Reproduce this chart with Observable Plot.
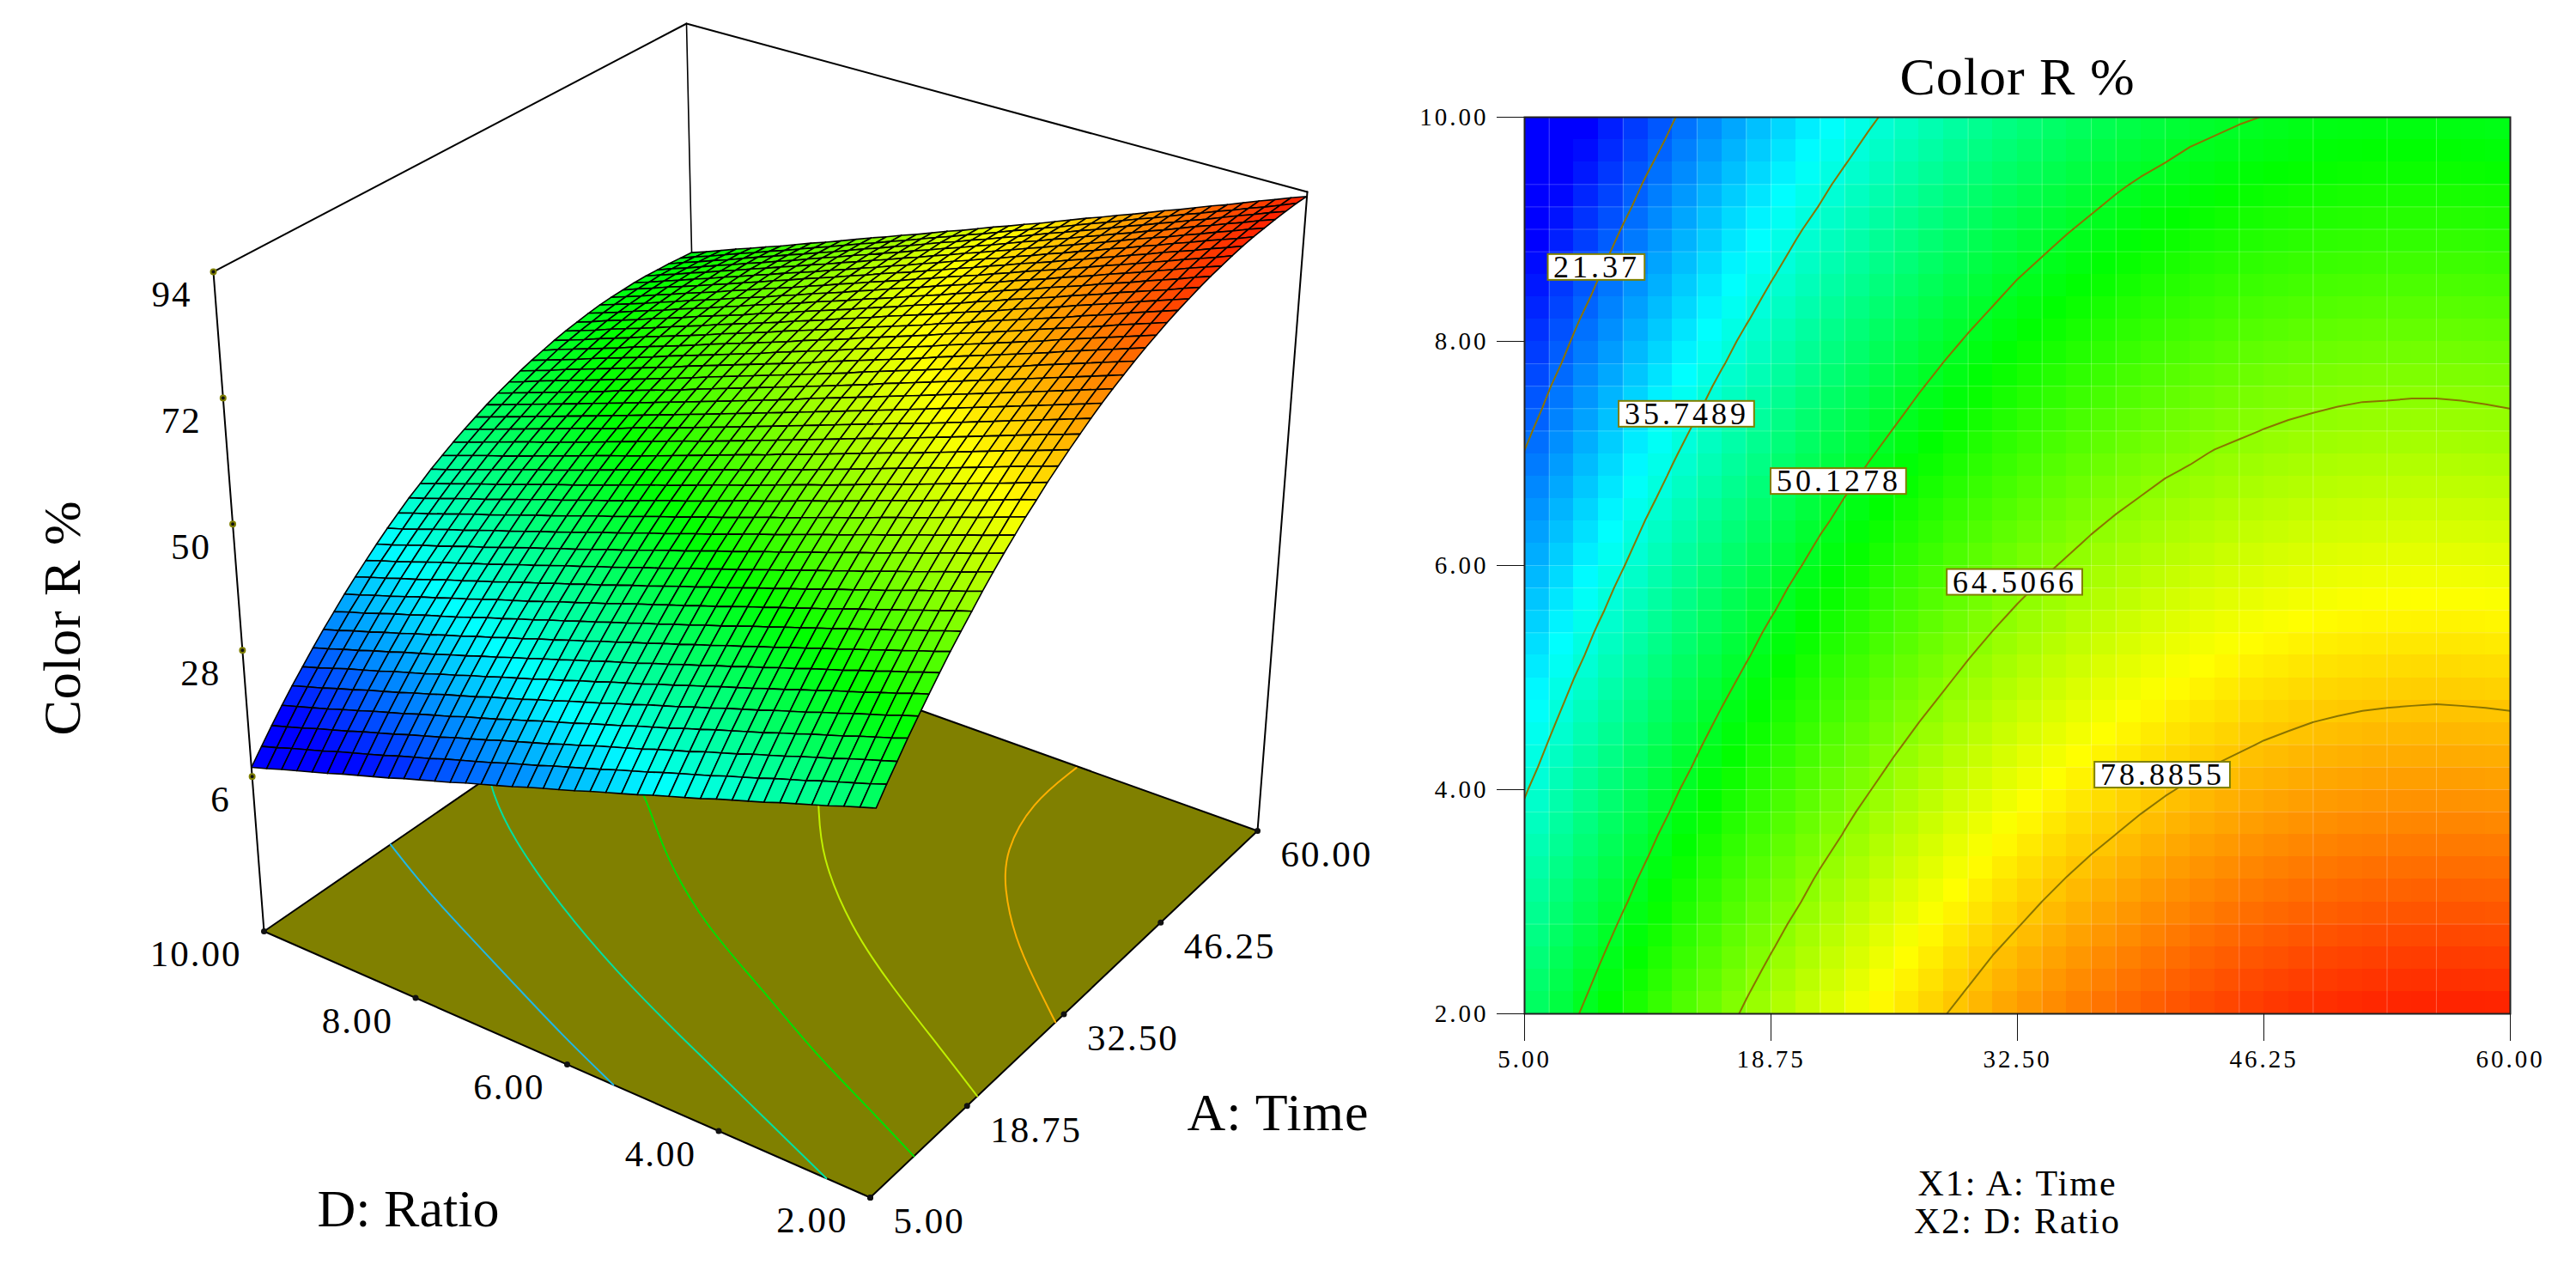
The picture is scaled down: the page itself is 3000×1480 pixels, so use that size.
<!DOCTYPE html>
<html>
<head>
<meta charset="utf-8">
<script src="https://cdn.jsdelivr.net/npm/d3@7"></script>
<script src="https://cdn.jsdelivr.net/npm/@observablehq/plot@0.6"></script>
<style>
html,body{margin:0;padding:0;background:#fff}
#page{display:flex;width:3000px;height:1480px;overflow:hidden}
#page svg{display:block;flex:none}
</style>
</head>
<body>
<div id="page"></div>
<script>
// ---------- data ----------
const timeValues = [5,6.375,7.75,9.125,10.5,11.875,13.25,14.625,16,17.375,18.75,20.125,21.5,22.875,24.25,25.625,27,28.375,29.75,31.125,32.5,33.875,35.25,36.625,38,39.375,40.75,42.125,43.5,44.875,46.25,47.625,49,50.375,51.75,53.125,54.5,55.875,57.25,58.625,60];
const ratioValues = [2,2.2,2.4,2.6,2.8,3,3.2,3.4,3.6,3.8,4,4.2,4.4,4.6,4.8,5,5.2,5.4,5.6,5.8,6,6.2,6.4,6.6,6.8,7,7.2,7.4,7.6,7.8,8,8.2,8.4,8.6,8.8,9,9.2,9.4,9.6,9.8,10];
// one row of Color R % per ratio value, one entry per time value
const colorR = [
[44.6,47.2,49.6,52.1,54.4,56.7,58.9,61.1,63.1,65.1,67.1,69.0,70.8,72.5,74.2,75.7,77.3,78.7,80.1,81.4,82.7,83.9,85.0,86.0,87.0,87.9,88.7,89.5,90.2,90.8,91.4,91.9,92.3,92.7,93.0,93.2,93.3,93.4,93.4,93.4,93.2],
[43.7,46.2,48.7,51.1,53.5,55.8,58.0,60.1,62.2,64.2,66.1,68.0,69.8,71.5,73.2,74.8,76.3,77.7,79.1,80.4,81.7,82.9,84.0,85.0,86.0,86.9,87.7,88.5,89.2,89.8,90.4,90.9,91.3,91.6,91.9,92.1,92.3,92.4,92.4,92.3,92.2],
[42.8,45.3,47.8,50.2,52.5,54.8,57.0,59.2,61.2,63.2,65.2,67.0,68.8,70.5,72.2,73.8,75.3,76.8,78.1,79.5,80.7,81.9,83.0,84.0,85.0,85.9,86.7,87.5,88.2,88.8,89.3,89.8,90.3,90.6,90.9,91.1,91.2,91.3,91.3,91.2,91.1],
[41.8,44.4,46.9,49.3,51.6,53.9,56.1,58.2,60.3,62.3,64.2,66.1,67.9,69.6,71.2,72.8,74.3,75.8,77.2,78.5,79.7,80.9,82.0,83.0,84.0,84.9,85.7,86.5,87.2,87.8,88.3,88.8,89.2,89.6,89.8,90.1,90.2,90.3,90.3,90.2,90.1],
[40.9,43.5,45.9,48.3,50.7,52.9,55.1,57.3,59.3,61.3,63.3,65.1,66.9,68.6,70.3,71.8,73.4,74.8,76.2,77.5,78.7,79.9,81.0,82.0,83.0,83.9,84.7,85.4,86.1,86.7,87.3,87.8,88.2,88.5,88.8,89.0,89.1,89.2,89.2,89.1,89.0],
[40.0,42.5,45.0,47.4,49.7,52.0,54.2,56.3,58.4,60.4,62.3,64.1,65.9,67.6,69.3,70.9,72.4,73.8,75.2,76.5,77.7,78.9,80.0,81.0,82.0,82.9,83.7,84.4,85.1,85.7,86.3,86.7,87.1,87.5,87.8,88.0,88.1,88.2,88.1,88.1,87.9],
[39.1,41.6,44.1,46.5,48.8,51.1,53.2,55.4,57.4,59.4,61.3,63.2,65.0,66.7,68.3,69.9,71.4,72.8,74.2,75.5,76.7,77.9,79.0,80.0,81.0,81.8,82.7,83.4,84.1,84.7,85.2,85.7,86.1,86.4,86.7,86.9,87.0,87.1,87.1,87.0,86.9],
[38.1,40.7,43.1,45.5,47.8,50.1,52.3,54.4,56.5,58.5,60.4,62.2,64.0,65.7,67.3,68.9,70.4,71.8,73.2,74.5,75.7,76.9,78.0,79.0,79.9,80.8,81.6,82.4,83.0,83.7,84.2,84.7,85.1,85.4,85.7,85.9,86.0,86.0,86.0,86.0,85.8],
[37.2,39.7,42.2,44.6,46.9,49.2,51.4,53.5,55.5,57.5,59.4,61.2,63.0,64.7,66.4,67.9,69.4,70.9,72.2,73.5,74.7,75.9,77.0,78.0,78.9,79.8,80.6,81.4,82.0,82.6,83.2,83.6,84.0,84.4,84.6,84.8,85.0,85.0,85.0,84.9,84.7],
[36.3,38.8,41.3,43.6,46.0,48.2,50.4,52.5,54.6,56.5,58.5,60.3,62.1,63.8,65.4,67.0,68.4,69.9,71.2,72.5,73.7,74.9,76.0,77.0,77.9,78.8,79.6,80.3,81.0,81.6,82.1,82.6,83.0,83.3,83.6,83.8,83.9,83.9,83.9,83.8,83.7],
[35.4,37.9,40.3,42.7,45.0,47.3,49.5,51.6,53.6,55.6,57.5,59.3,61.1,62.8,64.4,66.0,67.5,68.9,70.2,71.5,72.7,73.9,75.0,76.0,76.9,77.8,78.6,79.3,80.0,80.6,81.1,81.6,82.0,82.3,82.5,82.7,82.8,82.9,82.9,82.8,82.6],
[34.4,36.9,39.4,41.8,44.1,46.3,48.5,50.6,52.7,54.6,56.5,58.4,60.1,61.8,63.4,65.0,66.5,67.9,69.3,70.5,71.7,72.9,74.0,75.0,75.9,76.8,77.6,78.3,79.0,79.6,80.1,80.5,80.9,81.2,81.5,81.7,81.8,81.8,81.8,81.7,81.5],
[33.5,36.0,38.5,40.9,43.2,45.4,47.6,49.7,51.7,53.7,55.6,57.4,59.2,60.9,62.5,64.0,65.5,66.9,68.3,69.5,70.8,71.9,73.0,74.0,74.9,75.8,76.6,77.3,78.0,78.5,79.1,79.5,79.9,80.2,80.4,80.6,80.7,80.8,80.7,80.6,80.5],
[32.6,35.1,37.5,39.9,42.2,44.5,46.6,48.7,50.8,52.7,54.6,56.4,58.2,59.9,61.5,63.0,64.5,65.9,67.3,68.6,69.8,70.9,72.0,73.0,73.9,74.8,75.6,76.3,76.9,77.5,78.0,78.5,78.9,79.2,79.4,79.6,79.7,79.7,79.7,79.6,79.4],
[31.7,34.2,36.6,39.0,41.3,43.5,45.7,47.8,49.8,51.8,53.7,55.5,57.2,58.9,60.5,62.1,63.5,64.9,66.3,67.6,68.8,69.9,71.0,72.0,72.9,73.7,74.5,75.3,75.9,76.5,77.0,77.4,77.8,78.1,78.4,78.5,78.6,78.7,78.6,78.5,78.4],
[30.7,33.2,35.7,38.0,40.3,42.6,44.7,46.8,48.8,50.8,52.7,54.5,56.3,57.9,59.5,61.1,62.6,63.9,65.3,66.6,67.8,68.9,70.0,71.0,71.9,72.7,73.5,74.2,74.9,75.5,75.9,76.4,76.8,77.1,77.3,77.5,77.6,77.6,77.6,77.4,77.3],
[29.8,32.3,34.7,37.1,39.4,41.6,43.8,45.9,47.9,49.8,51.7,53.5,55.3,57.0,58.6,60.1,61.6,62.9,64.3,65.6,66.8,67.9,69.0,69.9,70.9,71.7,72.5,73.2,73.8,74.4,74.9,75.4,75.7,76.0,76.3,76.4,76.5,76.6,76.5,76.4,76.2],
[28.9,31.4,33.8,36.2,38.5,40.7,42.8,44.9,46.9,48.9,50.8,52.6,54.3,56.0,57.6,59.1,60.6,62.0,63.3,64.6,65.8,66.9,68.0,68.9,69.9,70.7,71.5,72.2,72.8,73.4,73.9,74.3,74.7,75.0,75.2,75.4,75.5,75.5,75.4,75.3,75.1],
[28.0,30.4,32.9,35.2,37.5,39.7,41.9,44.0,46.0,47.9,49.8,51.6,53.4,55.0,56.6,58.2,59.6,61.0,62.4,63.6,64.8,65.9,67.0,67.9,68.8,69.7,70.5,71.2,71.8,72.4,72.9,73.3,73.7,74.0,74.2,74.3,74.4,74.4,74.4,74.3,74.1],
[27.0,29.5,32.0,34.3,36.6,38.8,40.9,43.0,45.0,47.0,48.9,50.7,52.4,54.0,55.6,57.2,58.6,60.0,61.3,62.6,63.8,64.9,66.0,66.9,67.8,68.7,69.5,70.2,70.8,71.4,71.8,72.3,72.6,72.9,73.1,73.3,73.4,73.4,73.3,73.2,73.0],
[26.1,28.6,31.0,33.4,35.6,37.9,40.0,42.1,44.1,46.0,47.9,49.7,51.4,53.1,54.7,56.2,57.7,59.0,60.4,61.6,62.8,63.9,64.9,65.9,66.8,67.7,68.4,69.1,69.8,70.3,70.8,71.2,71.6,71.9,72.1,72.2,72.3,72.3,72.3,72.1,72.0],
[25.2,27.7,30.1,32.4,34.7,36.9,39.1,41.1,43.1,45.1,46.9,48.7,50.5,52.1,53.7,55.2,56.7,58.1,59.4,60.6,61.8,62.9,63.9,64.9,65.8,66.6,67.4,68.1,68.7,69.3,69.8,70.2,70.6,70.8,71.0,71.2,71.3,71.3,71.2,71.1,70.9],
[24.3,26.7,29.1,31.5,33.8,36.0,38.1,40.2,42.2,44.1,46.0,47.8,49.5,51.1,52.7,54.2,55.7,57.1,58.4,59.6,60.8,61.9,62.9,63.9,64.8,65.6,66.4,67.1,67.7,68.3,68.7,69.2,69.5,69.8,70.0,70.1,70.2,70.2,70.2,70.0,69.8],
[23.3,25.8,28.2,30.6,32.8,35.0,37.2,39.2,41.2,43.1,45.0,46.8,48.5,50.2,51.8,53.3,54.7,56.1,57.4,58.6,59.8,60.9,61.9,62.9,63.8,64.6,65.4,66.1,66.7,67.2,67.7,68.1,68.5,68.8,69.0,69.1,69.2,69.2,69.1,69.0,68.8],
[22.4,24.9,27.3,29.6,31.9,34.1,36.2,38.3,40.3,42.2,44.0,45.8,47.5,49.2,50.8,52.3,53.7,55.1,56.4,57.6,58.8,59.9,60.9,61.9,62.8,63.6,64.4,65.0,65.7,66.2,66.7,67.1,67.4,67.7,67.9,68.0,68.1,68.1,68.0,67.9,67.7],
[21.5,23.9,26.4,28.7,30.9,33.1,35.3,37.3,39.3,41.2,43.1,44.9,46.6,48.2,49.8,51.3,52.8,54.1,55.4,56.7,57.8,58.9,59.9,60.9,61.8,62.6,63.3,64.0,64.7,65.2,65.7,66.1,66.4,66.7,66.9,67.0,67.1,67.1,67.0,66.8,66.6],
[20.6,23.0,25.4,27.7,30.0,32.2,34.3,36.4,38.4,40.3,42.1,43.9,45.6,47.3,48.8,50.3,51.8,53.2,54.4,55.7,56.8,57.9,58.9,59.9,60.8,61.6,62.3,63.0,63.6,64.1,64.6,65.0,65.4,65.6,65.8,65.9,66.0,66.0,65.9,65.8,65.6],
[19.6,22.1,24.5,26.8,29.1,31.3,33.4,35.4,37.4,39.3,41.2,43.0,44.6,46.3,47.9,49.3,50.8,52.2,53.4,54.7,55.8,56.9,57.9,58.9,59.8,60.6,61.3,62.0,62.6,63.1,63.6,64.0,64.3,64.6,64.8,64.9,65.0,65.0,64.9,64.7,64.5],
[18.7,21.2,23.6,25.9,28.1,30.3,32.4,34.5,36.5,38.3,40.2,42.0,43.7,45.3,46.9,48.4,49.8,51.2,52.4,53.7,54.9,55.9,56.9,57.8,58.7,59.6,60.3,61.0,61.6,62.1,62.6,63.0,63.3,63.5,63.8,63.8,63.9,63.9,63.8,63.7,63.5],
[17.8,20.2,22.6,24.9,27.2,29.4,31.5,33.5,35.5,37.4,39.3,41.0,42.7,44.3,45.9,47.4,48.8,50.2,51.5,52.7,53.9,54.9,55.9,56.8,57.7,58.6,59.3,60.0,60.6,61.1,61.5,62.0,62.2,62.5,62.7,62.8,62.9,62.9,62.7,62.6,62.4],
[16.9,19.3,21.7,24.0,26.3,28.4,30.5,32.6,34.6,36.5,38.3,40.1,41.8,43.4,44.9,46.4,47.8,49.2,50.5,51.7,52.8,53.9,54.9,55.9,56.7,57.5,58.3,58.9,59.5,60.1,60.5,60.9,61.2,61.5,61.7,61.8,61.8,61.8,61.7,61.5,61.3],
[15.9,18.4,20.8,23.1,25.3,27.5,29.6,31.6,33.6,35.5,37.3,39.1,40.8,42.4,44.0,45.5,46.9,48.2,49.5,50.7,51.8,52.9,53.9,54.9,55.7,56.5,57.3,57.9,58.5,59.0,59.5,59.9,60.2,60.4,60.6,60.7,60.8,60.7,60.6,60.5,60.2],
[15.0,17.4,19.8,22.1,24.4,26.5,28.6,30.7,32.6,34.5,36.4,38.1,39.8,41.4,43.0,44.5,45.9,47.2,48.5,49.7,50.9,51.9,52.9,53.9,54.7,55.5,56.2,56.9,57.5,58.0,58.5,58.8,59.1,59.4,59.6,59.7,59.7,59.7,59.6,59.4,59.2],
[14.1,16.5,18.9,21.2,23.4,25.6,27.7,29.7,31.7,33.6,35.4,37.2,38.8,40.5,42.0,43.5,44.9,46.3,47.5,48.7,49.9,50.9,51.9,52.8,53.7,54.5,55.2,55.9,56.5,57.0,57.4,57.8,58.1,58.3,58.5,58.6,58.7,58.6,58.5,58.3,58.1],
[13.2,15.6,18.0,20.3,22.5,24.7,26.8,28.8,30.8,32.6,34.5,36.2,37.9,39.5,41.0,42.5,43.9,45.3,46.5,47.7,48.9,49.9,50.9,51.8,52.7,53.5,54.2,54.9,55.5,55.9,56.4,56.8,57.1,57.3,57.5,57.6,57.6,57.6,57.5,57.3,57.0],
[12.2,14.7,17.0,19.3,21.6,23.7,25.8,27.8,29.8,31.7,33.5,35.3,36.9,38.5,40.1,41.5,42.9,44.3,45.5,46.8,47.9,48.9,49.9,50.8,51.7,52.5,53.2,53.8,54.4,54.9,55.4,55.7,56.0,56.3,56.4,56.5,56.6,56.5,56.4,56.2,56.0],
[11.3,13.7,16.1,18.4,20.6,22.8,24.9,26.9,28.9,30.7,32.5,34.3,35.9,37.6,39.1,40.6,42.0,43.3,44.5,45.8,46.9,47.9,48.9,49.8,50.7,51.5,52.2,52.8,53.4,53.9,54.3,54.7,55.0,55.2,55.4,55.5,55.5,55.5,55.3,55.2,54.9],
[10.4,12.8,15.2,17.4,19.7,21.9,23.9,25.9,27.9,29.7,31.6,33.3,35.0,36.6,38.1,39.6,41.0,42.3,43.6,44.8,45.9,46.9,47.9,48.8,49.7,50.5,51.1,51.8,52.4,52.9,53.3,53.7,53.9,54.2,54.4,54.4,54.5,54.4,54.3,54.1,53.9],
[9.5,11.9,14.2,16.5,18.7,20.9,23.0,25.0,26.9,28.8,30.6,32.3,34.0,35.6,37.1,38.6,40.0,41.3,42.6,43.8,44.9,45.9,46.9,47.8,48.7,49.4,50.1,50.8,51.3,51.8,52.3,52.6,52.9,53.1,53.3,53.4,53.4,53.3,53.2,53.0,52.8],
[8.5,10.9,13.3,15.6,17.8,19.9,22.0,24.0,26.0,27.8,29.7,31.4,33.0,34.6,36.2,37.6,39.0,40.3,41.6,42.8,43.9,44.9,45.9,46.8,47.6,48.4,49.1,49.8,50.3,50.8,51.2,51.6,51.9,52.1,52.3,52.3,52.4,52.3,52.2,52.0,51.7],
[7.6,10.0,12.4,14.7,16.9,19.0,21.1,23.1,25.0,26.9,28.7,30.4,32.1,33.7,35.2,36.7,38.0,39.4,40.6,41.8,42.9,43.9,44.9,45.8,46.6,47.4,48.1,48.7,49.3,49.8,50.2,50.6,50.9,51.1,51.2,51.3,51.3,51.2,51.1,50.9,50.7]
];
const contourLevels = [21.37,35.7489,50.1278,64.5066,78.8855];
const labelTime  = [9.02,14.05,22.53,32.36,40.6];
const labelRatio = [8.66,7.35,6.75,5.85,4.13];
const timeTicks  = [5,18.75,32.5,46.25,60];
const ratioTicks = [2,4,6,8,10];
const colorTicks = [6,28,50,72,94];
// floor contours of the 3D panel, read against its own tick marks
const floorTime = [
  [20.95,17.6,14.3,11.1,8.0,5],
  [33.5,32,27.5,21.9,17.4,13.4,9.25,5],
  [41,38.2,32.4,26.4,22.3,17.6,14.2,11.2],
  [47,44.6,39.3,32.8,28.1,23.6,20.2],
  [59.8,54,47.6,43.5,38.6,34.7,31.3]
];
const floorRatio = [
  [10,9.18,8.23,7.29,6.38,5.39],
  [10,9.82,9.06,7.79,6.6,5.36,3.98,2.58],
  [8.9,8.35,7.48,6.3,5.15,3.95,2.89,2],
  [6.9,6.63,6.04,4.97,3.94,2.82,2],
  [4.58,4.62,4.32,3.92,3.28,2.61,2]
];
// faint seams between map cells, as positions on the time and ratio lists
const seamColumns = [1,4,7,9,10,12,13,15,18,21,23,24,26,29,32,35,37];
const seamRows = [4,9,10,11,12,17,18,19,20,26,27,28,29,34,35,36,37];

// ---------- styles and view ----------
const serif = "'Liberation Serif','Times New Roman',serif";
const floorColors = ["#20b8e8","#00e0a0","#00e000","#c0f000","#ffb000"];
const colorScale = {type:"linear",domain:[14,33,53,74,96],range:["#0000ff","#00ffff","#00ff00","#ffff00","#ff0000"],clamp:true};
const floorZ = -21, topZ = 94;
// screen position of the eight box corners: [time index][ratio index][height index]
const box = [
  [[[1013,1394],[1025,599]],[[307,1084],[248,316]]],
  [[[1464,967],[1522,223]],[[815,735],[799,27]]]
];
function project(a,d,z){
  const s=(a-5)/55,t=(d-2)/8,u=(z-floorZ)/(topZ-floorZ);
  const l=(p0,p1,f)=>[p0[0]+(p1[0]-p0[0])*f,p0[1]+(p1[1]-p0[1])*f];
  const c00=l(box[0][0][0],box[0][0][1],u),c01=l(box[0][1][0],box[0][1][1],u);
  const c10=l(box[1][0][0],box[1][0][1],u),c11=l(box[1][1][0],box[1][1][1],u);
  return l(l(c00,c01,t),l(c10,c11,t),s);
}
const pt=(a,d,z,extra)=>{const [x,y]=project(a,d,z);return {x,y,...extra};};
const spaced=px=>(i,s,v,d,c,next)=>{const g=next(i,s,v,d,c);g.style.letterSpacing=px+"px";return g;};

// ---------- 3D panel ----------
const floorPoly=[[5,2],[60,2],[60,10],[5,10],[5,2]].map(([a,d])=>pt(a,d,floorZ));
const floorLines=floorTime.flatMap((as,k)=>as.map((a,n)=>pt(a,floorRatio[k][n],floorZ,{level:k})));
const boxEdges=[
  [[5,10,floorZ],[5,10,topZ]],
  [[5,10,topZ],[60,10,topZ]],
  [[60,10,topZ],[60,2,topZ]],
  [[60,2,topZ],[60,2,floorZ]]
].flatMap((seg,k)=>seg.map(p=>pt(p[0],p[1],p[2],{edge:k})));
const backEdge=[pt(60,10,topZ),pt(60,10,floorZ)];
const quads=[];
for(let j=39;j>=0;j--)for(let i=39;i>=0;i--){
  const v=(colorR[j][i]+colorR[j][i+1]+colorR[j+1][i]+colorR[j+1][i+1])/4;
  const id=j*40+i;
  [[i,j],[i+1,j],[i+1,j+1],[i,j+1],[i,j]].forEach(([m,n])=>quads.push(pt(timeValues[m],ratioValues[n],colorR[n][m],{id,v})));
}
const zTickPts=colorTicks.map(z=>pt(5,10,z,{label:String(z)}));
const ratioTickPts=ratioTicks.map(d=>pt(5,d,floorZ,{label:d3.format(".2f")(d)}));
const timeTickPts=timeTicks.map(a=>pt(a,2,floorZ,{label:d3.format(".2f")(a)}));

const left=Plot.plot({
  width:1600,height:1480,margin:0,
  x:{domain:[0,1600],range:[0,1600],axis:null},
  y:{domain:[0,1480],range:[0,1480],axis:null},
  color:colorScale,
  style:{fontFamily:serif,background:"#fff",color:"#000"},
  marks:[
    Plot.line(backEdge,{x:"x",y:"y",stroke:"#000",strokeWidth:1.6}),
    Plot.line(floorPoly,{x:"x",y:"y",fill:"#808000",stroke:"#000",strokeWidth:2}),
    Plot.line(floorLines,{x:"x",y:"y",z:"level",stroke:d=>floorColors[d.level],strokeWidth:2,curve:"basis"}),
    Plot.line(boxEdges,{x:"x",y:"y",z:"edge",stroke:"#000",strokeWidth:2}),
    Plot.line(quads,{x:"x",y:"y",z:"id",fill:"v",stroke:"#000",strokeWidth:1.6,strokeLinejoin:"round"}),
    Plot.dot(zTickPts,{x:"x",y:"y",r:3,fill:"#111",stroke:"#808000",strokeWidth:2}),
    Plot.dot(ratioTickPts,{x:"x",y:"y",r:3.5,fill:"#111"}),
    Plot.dot(timeTickPts,{x:"x",y:"y",r:3.5,fill:"#111"}),
    Plot.text(zTickPts,{x:"x",y:"y",text:"label",fontSize:43,textAnchor:"end",dx:-25,dy:27,fill:"#000",render:spaced(2)}),
    Plot.text(ratioTickPts,{x:"x",y:"y",text:"label",fontSize:43,textAnchor:"end",dx:-26,dy:27,fill:"#000",render:spaced(2)}),
    Plot.text(timeTickPts,{x:"x",y:"y",text:"label",fontSize:43,textAnchor:"start",dx:27,dy:28,fill:"#000",render:spaced(2)}),
    Plot.text(["Color R %"],{x:73,y:719,rotate:-90,fontSize:62,fill:"#000",render:spaced(1)}),
    Plot.text(["A: Time"],{x:1488,y:1296,fontSize:62,fill:"#000",render:spaced(1)}),
    Plot.text(["D: Ratio"],{x:475,y:1408,fontSize:62,fill:"#000"})
  ]
});

// ---------- 2D panel ----------
const cells=[];
for(let j=0;j<40;j++)for(let i=0;i<40;i++){
  cells.push({a0:timeValues[i],a1:timeValues[i+1],d0:ratioValues[j],d1:ratioValues[j+1],
    v:(colorR[j][i]+colorR[j][i+1]+colorR[j+1][i]+colorR[j+1][i+1])/4});
}
const stepA=timeValues[1]-timeValues[0], stepD=ratioValues[1]-ratioValues[0];
const labelRows=contourLevels.map((lvl,k)=>({
  time:labelTime[k],ratio:labelRatio[k],
  text:k===0?String(lvl):d3.format(".4f")(lvl),
  halfA:k===0?2.7:3.78,halfD:0.115
}));
const right=Plot.plot({
  width:1400,height:1480,marginLeft:175,marginRight:77,marginTop:136,marginBottom:300,
  x:{domain:[5,60]},y:{domain:[2,10]},color:colorScale,
  style:{fontFamily:serif,background:"#fff",color:"#000",letterSpacing:"3px"},
  marks:[
    Plot.rect(cells,{x1:"a0",x2:"a1",y1:"d0",y2:"d1",fill:"v",shapeRendering:"crispEdges"}),
    Plot.ruleX(seamColumns.map(i=>timeValues[i]),{stroke:"#fff",strokeOpacity:0.28,strokeWidth:1}),
    Plot.ruleY(seamRows.map(j=>ratioValues[j]),{stroke:"#fff",strokeOpacity:0.22,strokeWidth:1}),
    Plot.contour(colorR.flat(),{
      width:41,height:41,value:Plot.identity,
      x1:5-stepA/2,x2:60+stepA/2,y1:2-stepD/2,y2:10+stepD/2,
      thresholds:contourLevels,stroke:"#8a7400",strokeWidth:2,fill:"none",clip:true
    }),
    Plot.frame({stroke:"#222",strokeWidth:2}),
    Plot.rect(labelRows,{x1:d=>d.time-d.halfA,x2:d=>d.time+d.halfA,y1:d=>d.ratio-d.halfD,y2:d=>d.ratio+d.halfD,fill:"#fff",stroke:"#808000",strokeWidth:2}),
    Plot.text(labelRows,{x:"time",y:"ratio",text:"text",fontSize:36,fill:"#000",render:spaced(4)}),
    Plot.axisX({ticks:timeTicks,tickFormat:d3.format(".2f"),tickSize:32,tickPadding:10,fontSize:29,label:null,stroke:"#111",fill:"#000"}),
    Plot.axisY({ticks:ratioTicks,tickFormat:d3.format(".2f"),tickSize:32,tickPadding:10,fontSize:29,label:null,stroke:"#111",fill:"#000"}),
    Plot.text(["Color R %"],{frameAnchor:"top",lineAnchor:"middle",dy:-46,fontSize:62,fill:"#000",render:spaced(1)}),
    Plot.text(["X1: A: Time"],{frameAnchor:"bottom",lineAnchor:"middle",dy:198,fontSize:42,fill:"#000",render:spaced(2)}),
    Plot.text(["X2: D: Ratio"],{frameAnchor:"bottom",lineAnchor:"middle",dy:242,fontSize:42,fill:"#000",render:spaced(2)})
  ]
});
const page=document.getElementById("page");
page.append(left,right);
</script>
</body>
</html>
